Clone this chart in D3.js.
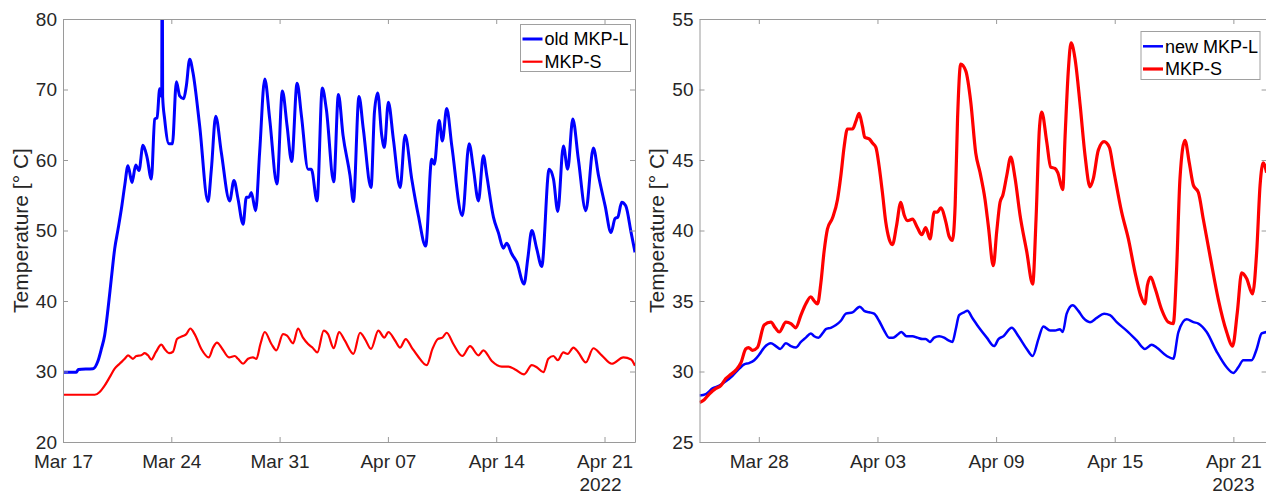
<!DOCTYPE html>
<html>
<head>
<meta charset="utf-8">
<script src="https://cdn.jsdelivr.net/npm/d3@7"></script>
<style>
  body { margin: 0; background: #fff; }
  svg { display: block; font-family: "Liberation Sans", Arial, sans-serif; }
</style>
</head>
<body>
<div id="chart"></div>
<script>
/* Two panels: MKP-L vs MKP-S temperature, 2022 (old) and 2023 (new) */

// ---- 2022 panel, days counted from Mar 17 ----
const oldL_days = [0, 0.86, 1.0, 1.94, 2.26, 2.48, 2.69, 2.91, 3.12, 3.34, 3.56, 3.77, 3.99, 4.2, 4.46, 4.7, 4.91, 5.17, 5.43, 5.71, 5.93, 6.08, 6.25, 6.38, 6.41, 6.44, 6.57, 6.85, 7.07, 7.33, 7.54, 7.8, 7.97, 8.19, 8.4, 8.83, 9.37, 9.59, 9.87, 10.23, 10.77, 11.05, 11.31, 11.64, 11.85, 12.02, 12.17, 12.45, 12.71, 13.04, 13.36, 13.83, 14.18, 14.48, 14.78, 15.13, 15.41, 15.84, 16.05, 16.42, 16.76, 17.02, 17.5, 17.8, 18.1, 18.55, 18.77, 19.13, 19.41, 19.91, 20.13, 20.34, 20.6, 20.77, 21.03, 21.35, 21.79, 22.11, 22.54, 22.97, 23.44, 23.83, 24.0, 24.31, 24.52, 24.8, 25.13, 25.81, 26.25, 26.53, 26.85, 27.17, 27.39, 27.82, 28.14, 28.46, 28.68, 29.0, 29.33, 29.8, 30.04, 30.3, 30.62, 30.94, 31.42, 31.7, 31.98, 32.34, 32.62, 32.95, 33.31, 33.79, 34.28, 34.61, 35.04, 35.42, 35.68, 35.86, 36.11, 36.37, 36.72, 36.97];
const oldL_temp = [29.9, 29.9, 30.3, 30.4, 31.5, 33.2, 35.1, 38.9, 43.1, 47.4, 50.2, 53.0, 56.4, 59.2, 56.8, 59.3, 58.5, 62.1, 60.4, 57.3, 65.8, 66.0, 70.1, 69.0, 95, 69.0, 65.8, 62.3, 62.3, 71.1, 69.1, 68.7, 70.5, 74.3, 72.4, 64.9, 54.1, 58.7, 66.2, 61.1, 54.2, 57.1, 54.5, 50.9, 54.7, 54.7, 55.4, 52.8, 61.1, 71.5, 65.8, 56.6, 69.8, 64.9, 59.8, 70.9, 66.3, 58.7, 58.7, 54.2, 70.2, 67.2, 56.9, 69.3, 63.5, 57.8, 54.1, 69.0, 64.4, 56.1, 66.8, 69.5, 63.5, 61.8, 68.2, 63.0, 56.1, 63.5, 57.3, 52.1, 47.8, 60.1, 59.4, 65.6, 62.7, 67.3, 62.0, 52.1, 62.3, 58.7, 54.2, 60.6, 57.8, 51.9, 49.7, 47.5, 48.2, 46.7, 45.5, 42.4, 46.0, 50.0, 47.4, 44.9, 58.7, 57.3, 52.7, 62.0, 58.7, 65.8, 60.1, 52.8, 61.7, 57.8, 53.5, 49.7, 51.7, 51.9, 54.0, 53.5, 49.7, 46.9];

const oldS_days = [0, 2.05, 2.37, 2.69, 3.02, 3.34, 3.66, 3.99, 4.2, 4.52, 4.74, 5.06, 5.28, 5.49, 5.71, 5.99, 6.36, 6.57, 6.85, 7.11, 7.37, 7.71, 7.97, 8.23, 8.51, 8.94, 9.42, 9.7, 9.95, 10.3, 10.73, 11.1, 11.31, 11.64, 11.96, 12.28, 12.5, 12.76, 13.04, 13.47, 13.79, 14.22, 14.48, 14.87, 15.19, 15.51, 15.84, 16.12, 16.44, 16.85, 17.13, 17.5, 17.84, 18.21, 18.77, 19.2, 19.52, 19.91, 20.38, 20.77, 21.03, 21.46, 21.79, 22.15, 22.54, 22.93, 23.51, 23.88, 24.22, 24.52, 24.8, 25.23, 25.81, 26.31, 26.85, 27.17, 27.71, 28.36, 28.79, 29.22, 29.8, 30.3, 30.62, 31.05, 31.37, 31.7, 31.98, 32.34, 32.62, 32.99, 33.31, 33.79, 34.28, 34.82, 35.47, 36.22, 36.72, 36.97];
const oldS_temp = [26.7, 26.7, 27.1, 28.0, 29.2, 30.4, 31.1, 31.8, 32.3, 31.8, 32.2, 32.3, 32.6, 32.3, 31.7, 32.7, 33.8, 33.2, 32.6, 32.8, 34.6, 35.0, 35.3, 36.1, 35.3, 33.2, 32.0, 33.4, 34.1, 33.2, 32.0, 32.2, 31.8, 31.1, 31.8, 32.0, 31.8, 33.9, 35.6, 33.9, 33.0, 35.3, 35.1, 34.0, 36.1, 34.8, 33.9, 33.4, 32.7, 35.8, 35.3, 33.3, 35.6, 34.4, 32.5, 35.5, 34.6, 33.2, 35.8, 34.8, 35.6, 34.4, 33.4, 34.6, 33.4, 32.2, 30.9, 33.2, 34.6, 34.8, 35.5, 33.9, 32.2, 33.6, 32.3, 33.0, 31.5, 30.7, 30.7, 30.3, 29.6, 30.9, 30.6, 29.9, 31.8, 32.2, 31.6, 32.7, 32.5, 33.4, 32.7, 31.3, 33.3, 32.3, 31.1, 32.0, 31.7, 30.8];

// ---- 2023 panel, days counted from Mar 25 ----
const newL_days = [0, 0.32, 0.66, 1.0, 1.33, 1.67, 2.01, 2.26, 2.51, 2.77, 3.02, 3.27, 3.61, 3.86, 4.08, 4.37, 4.62, 4.87, 5.13, 5.38, 5.63, 5.8, 6.02, 6.22, 6.39, 6.64, 6.9, 7.15, 7.4, 7.74, 8.11, 8.33, 8.58, 8.83, 9.08, 9.34, 9.59, 9.79, 10.01, 10.21, 10.47, 10.77, 11.02, 11.28, 11.44, 11.65, 11.87, 12.12, 12.37, 12.59, 12.79, 12.96, 13.13, 13.38, 13.55, 13.8, 14.14, 14.53, 14.9, 15.12, 15.37, 15.79, 16.13, 16.55, 16.85, 17.14, 17.39, 17.73, 17.98, 18.23, 18.37, 18.57, 18.87, 19.16, 19.41, 19.75, 20.09, 20.46, 20.76, 21.1, 21.6, 22.11, 22.53, 22.87, 23.12, 23.63, 23.96, 24.22, 24.64, 24.98, 25.23, 25.65, 26.16, 26.66, 27.0, 27.25, 27.5, 27.92, 28.18, 28.43, 28.68];
const newL_temp = [28.3, 28.4, 28.8, 29.0, 29.3, 29.7, 30.2, 30.5, 30.6, 30.8, 31.2, 31.7, 32.0, 31.8, 31.6, 32.0, 31.8, 31.7, 32.1, 32.4, 32.7, 32.5, 32.4, 32.7, 33.0, 33.1, 33.3, 33.6, 34.1, 34.2, 34.6, 34.3, 34.2, 34.1, 33.6, 32.9, 32.4, 32.4, 32.6, 32.8, 32.5, 32.5, 32.4, 32.3, 32.3, 32.1, 32.4, 32.5, 32.4, 32.2, 32.1, 33.0, 34.0, 34.2, 34.3, 33.8, 33.1, 32.4, 31.8, 32.3, 32.5, 33.1, 32.5, 31.6, 31.1, 32.3, 33.2, 32.9, 32.9, 33.0, 32.8, 34.1, 34.7, 34.3, 33.8, 33.5, 33.8, 34.1, 34.0, 33.5, 32.9, 32.2, 31.6, 31.9, 31.7, 31.1, 30.9, 32.8, 33.7, 33.5, 33.4, 32.8, 31.4, 30.3, 29.9, 30.3, 30.8, 30.8, 31.6, 32.7, 32.8];

const newS_days = [0, 0.24, 0.49, 0.83, 1.08, 1.33, 1.59, 1.84, 2.09, 2.34, 2.48, 2.68, 2.93, 3.27, 3.61, 3.83, 4.03, 4.37, 4.62, 4.87, 5.13, 5.38, 5.63, 5.8, 5.97, 6.14, 6.3, 6.47, 6.73, 6.98, 7.15, 7.32, 7.48, 7.74, 7.9, 8.07, 8.24, 8.36, 8.58, 8.75, 8.92, 9.08, 9.25, 9.42, 9.59, 9.76, 9.96, 10.18, 10.35, 10.52, 10.77, 11.02, 11.24, 11.44, 11.66, 11.87, 12.03, 12.2, 12.46, 12.62, 12.79, 12.93, 13.05, 13.21, 13.47, 13.72, 13.97, 14.19, 14.44, 14.61, 14.86, 15.03, 15.2, 15.34, 15.54, 15.74, 15.96, 16.21, 16.55, 16.85, 17.02, 17.19, 17.31, 17.56, 17.76, 17.98, 18.12, 18.37, 18.49, 18.66, 18.79, 18.99, 19.25, 19.5, 19.75, 19.92, 20.17, 20.46, 20.73, 20.93, 21.35, 21.69, 22.03, 22.31, 22.53, 22.65, 22.82, 23.04, 23.37, 23.71, 23.96, 24.13, 24.3, 24.55, 24.77, 24.98, 25.23, 25.48, 25.82, 26.24, 26.66, 26.96, 27.2, 27.42, 27.67, 27.97, 28.18, 28.35, 28.51, 28.68];
const newS_temp = [27.8, 28.0, 28.4, 28.8, 29.0, 29.5, 29.8, 30.1, 30.6, 31.6, 31.7, 31.5, 31.7, 33.3, 33.5, 33.1, 32.8, 33.5, 33.4, 33.1, 34.0, 34.8, 35.3, 35.0, 34.8, 36.3, 38.5, 40.1, 40.9, 42.2, 43.9, 46.0, 47.2, 47.2, 47.7, 48.3, 47.4, 46.6, 46.5, 46.2, 45.9, 44.6, 42.7, 40.6, 39.4, 39.0, 40.3, 42.0, 41.1, 40.7, 40.8, 40.2, 39.7, 40.2, 39.4, 41.3, 41.3, 41.6, 40.6, 39.6, 39.3, 41.8, 47.9, 51.8, 51.3, 49.1, 45.5, 44.1, 42.2, 40.3, 37.5, 39.9, 42.0, 42.5, 43.9, 45.2, 43.7, 41.1, 38.5, 36.2, 40.8, 47.2, 48.4, 46.3, 44.5, 44.4, 44.1, 42.9, 46.7, 51.5, 53.3, 52.2, 48.9, 45.3, 43.1, 43.7, 45.7, 46.3, 45.9, 44.4, 41.3, 39.4, 37.0, 35.4, 34.8, 36.1, 36.7, 35.9, 34.4, 33.5, 33.4, 37.3, 43.7, 46.4, 44.8, 43.2, 42.7, 40.8, 38.2, 35.1, 32.8, 31.8, 34.2, 37.0, 36.6, 35.5, 38.5, 43.2, 44.8, 44.1];

// tick labels
const ticks2022 = ["2022-03-17", "2022-03-24", "2022-03-31", "2022-04-07", "2022-04-14", "2022-04-21"];
const ticks2023 = ["2023-03-28", "2023-04-03", "2023-04-09", "2023-04-15", "2023-04-21"];
const yTicks2022 = [20, 30, 40, 50, 60, 70, 80];
const yTicks2023 = [25, 30, 35, 40, 45, 50, 55];

const width = 1266, height = 495;
const axisGray = "#9a9a9a", textGray = "#262626";

let svg = d3.select("#chart")
    .append("svg")
    .attr("width", width)
    .attr("height", height);

const fmt = d3.utcFormat("%b %d");

function panel(p) {
    const start = new Date(p.start), end = new Date(p.end);
    const toDate = d => new Date(start.getTime() + d * 864e5);

    let x = d3.scaleUtc()
        .domain([start, end])
        .range([p.left, p.right]);

    let y = d3.scaleLinear()
        .domain(p.yDomain)
        .range([p.bottom, p.top]);

    const g = svg.append("g");

    g.append("clipPath").attr("id", "clip" + p.id)
        .append("rect")
        .attr("x", p.left).attr("y", p.top)
        .attr("width", p.right - p.left).attr("height", p.bottom - p.top);

    const line = d3.line()
        .x(d => x(d[0]))
        .y(d => y(d[1]))
        .curve(d3.curveMonotoneX);

    for (let s of p.series) {
        const pts = s.days.map((d, i) => [toDate(d), s.temp[i]]);
        g.append("path")
            .datum(pts)
            .attr("clip-path", `url(#clip${p.id})`)
            .attr("fill", "none")
            .attr("stroke", s.color)
            .attr("stroke-width", s.width)
            .attr("stroke-linejoin", "round")
            .attr("d", line);
    }

    const tickDates = p.ticks.map(t => new Date(t));

    // four sides, ticks pointing inward like matlab
    g.append("g")
        .attr("transform", `translate(0,${p.bottom})`)
        .call(d3.axisBottom(x).tickValues(tickDates).tickFormat(fmt).tickSize(-5).tickSizeOuter(0).tickPadding(13));
    g.append("g")
        .attr("transform", `translate(0,${p.top})`)
        .call(d3.axisTop(x).tickValues(tickDates).tickFormat("").tickSize(-5).tickSizeOuter(0));
    g.append("g")
        .attr("transform", `translate(${p.left},0)`)
        .call(d3.axisLeft(y).tickValues(p.yTicks).tickSize(-5).tickSizeOuter(0).tickPadding(6));
    g.append("g")
        .attr("transform", `translate(${p.right},0)`)
        .call(d3.axisRight(y).tickValues(p.yTicks).tickFormat("").tickSize(-5).tickSizeOuter(0));

    g.selectAll(".domain, .tick line").attr("stroke", axisGray);
    g.selectAll(".tick text")
        .attr("fill", textGray)
        .attr("font-size", 19)
        .attr("font-family", "Liberation Sans, Arial, sans-serif");

    // year under the last date tick
    g.append("text")
        .attr("x", x(tickDates[tickDates.length - 1]) + p.yearDx)
        .attr("y", 491)
        .attr("text-anchor", "middle")
        .attr("fill", textGray)
        .attr("font-size", 19)
        .text(p.year);

    g.append("text")
        .attr("transform", `translate(${p.labelX},${(p.top + p.bottom) / 2}) rotate(-90)`)
        .attr("text-anchor", "middle")
        .attr("dy", "0.35em")
        .attr("fill", textGray)
        .attr("font-size", 21)
        .text("Temperature [° C]");

    // legend
    const lg = g.append("g").attr("transform", `translate(${p.legend.x},${p.legend.y})`);
    lg.append("rect")
        .attr("width", p.legend.w).attr("height", p.legend.h)
        .attr("fill", "#fff").attr("stroke", "#a0a0a0").attr("stroke-width", 1);
    p.series.forEach((s, i) => {
        const ly = p.legend.row0 + i * p.legend.step;
        lg.append("line")
            .attr("x1", 2).attr("x2", 22)
            .attr("y1", ly).attr("y2", ly)
            .attr("stroke", s.color).attr("stroke-width", s.width);
        lg.append("text")
            .attr("x", 24).attr("y", ly)
            .attr("dy", "0.35em")
            .attr("fill", "#000")
            .attr("font-size", 18)
            .text(s.name);
    });
}

panel({
    id: 1, start: "2022-03-17T00:00Z", end: "2022-04-22T23:17Z",
    left: 63, right: 635, top: 19, bottom: 442,
    yDomain: [20, 80], yTicks: yTicks2022, ticks: ticks2022,
    year: "2022", yearDx: -4, labelX: 21,
    legend: {x: 520.5, y: 24.5, w: 110, h: 47, row0: 14.5, step: 22.7},
    series: [
        {name: "old MKP-L", days: oldL_days, temp: oldL_temp, color: "#0000ff", width: 3},
        {name: "MKP-S", days: oldS_days, temp: oldS_temp, color: "#ff0000", width: 2.2}
    ]
});

panel({
    id: 2, start: "2023-03-25T00:00Z", end: "2023-04-22T16:20Z",
    left: 699.5, right: 1266.6, top: 19, bottom: 442,
    yDomain: [25, 55], yTicks: yTicks2023, ticks: ticks2023,
    year: "2023", yearDx: 0, labelX: 657,
    legend: {x: 1141, y: 31.5, w: 119, h: 48, row0: 14.8, step: 22.7},
    series: [
        {name: "new MKP-L", days: newL_days, temp: newL_temp, color: "#0000ff", width: 2.5},
        {name: "MKP-S", days: newS_days, temp: newS_temp, color: "#ff0000", width: 3.2}
    ]
});
</script>
</body>
</html>
